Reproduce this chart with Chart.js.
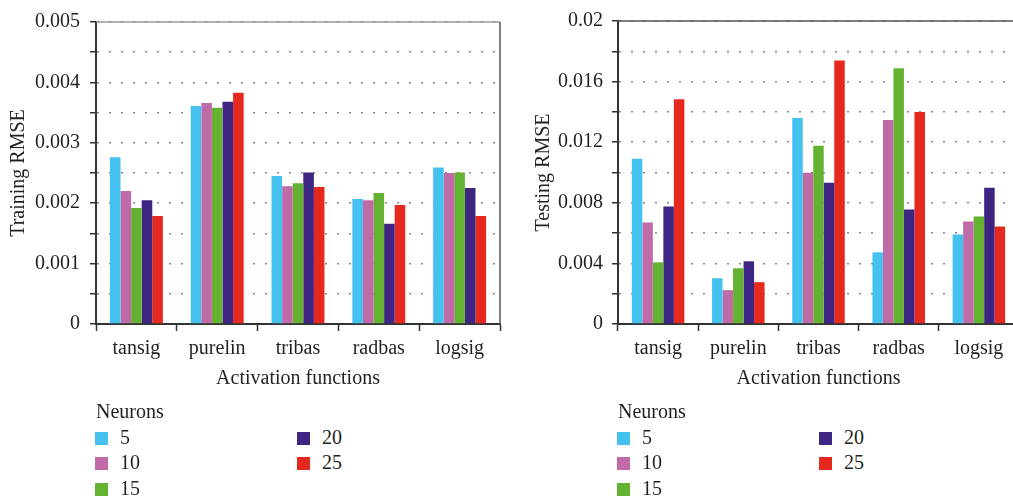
<!DOCTYPE html>
<html>
<head>
<meta charset="utf-8">
<script src="https://cdn.jsdelivr.net/npm/chart.js@4/dist/chart.umd.min.js"></script>
<style>
  html, body { margin: 0; padding: 0; background: #fff; overflow: hidden; }
  body { width: 1013px; height: 497px; position: relative; font-family: "Liberation Serif", serif; color: #231f20; }
  canvas { position: absolute; top: 0; }
  .legend { position: absolute; font-size: 20px; line-height: 24px; }
  .legend .ttl { position: absolute; left: 1px; top: 0; white-space: nowrap; }
  .legend .row { position: absolute; height: 24px; white-space: nowrap; }
  .legend .box { position: absolute; left: 0; top: 7px; width: 13px; height: 13px; }
  .legend .txt { position: absolute; left: 25px; top: 0; }
</style>
</head>
<body>
<canvas id="trainChart" width="505" height="400" style="left:0"></canvas>
<canvas id="testChart" width="498" height="400" style="left:524px"></canvas>
<div id="trainLegend" class="legend" style="left:95px;top:399px"></div>
<div id="testLegend" class="legend" style="left:617px;top:399px"></div>

<script>
// =======================================================
// Données
// =======================================================

const categories = ["tansig", "purelin", "tribas", "radbas", "logsig"];
const neurons = ["5", "10", "15", "20", "25"];
const colors = ["#44C1EE", "#C06BA8", "#64B232", "#3F2583", "#E5291F"];

// Training RMSE
const train5  = [0.00276, 0.00361, 0.00245, 0.00207, 0.00259];
const train10 = [0.00220, 0.00366, 0.00228, 0.00205, 0.00250];
const train15 = [0.00192, 0.00358, 0.00233, 0.00217, 0.00251];
const train20 = [0.00205, 0.00368, 0.00251, 0.00166, 0.00225];
const train25 = [0.00179, 0.00383, 0.00227, 0.00197, 0.00179];

// Testing RMSE
const test5  = [0.01090, 0.00302, 0.01360, 0.00473, 0.00591];
const test10 = [0.00670, 0.00223, 0.00998, 0.01346, 0.00677];
const test15 = [0.00407, 0.00368, 0.01176, 0.01688, 0.00709];
const test20 = [0.00775, 0.00414, 0.00933, 0.00755, 0.00900];
const test25 = [0.01484, 0.00276, 0.01740, 0.01399, 0.00644];

const trainTicks = ["0", "0.001", "0.002", "0.003", "0.004", "0.005"];
const testTicks  = ["0", "0.004", "0.008", "0.012", "0.016", "0.02"];


Chart.defaults.font.family = "'Liberation Serif', serif";
Chart.defaults.font.size = 20;
Chart.defaults.color = "#231f20";


// cadre haut / droite du graphique
const framePlugin = {
    id: "frame",
    afterDatasetsDraw(chart, args, opts) {
        const a = chart.chartArea;
        const ctx = chart.ctx;
        ctx.save();
        ctx.lineWidth = 1.5;
        ctx.strokeStyle = opts.topColor;
        ctx.beginPath();
        ctx.moveTo(a.left, a.top);
        ctx.lineTo(a.right, a.top);
        ctx.stroke();
        ctx.strokeStyle = "#555";
        ctx.beginPath();
        ctx.moveTo(a.right, a.top);
        ctx.lineTo(a.right, a.bottom);
        ctx.stroke();
        ctx.restore();
    }
};


function drawChart(id, series, yTitle, yMax, step, tickLabels, axisW, rightPad, titlePad, labelPad, topColor) {

    new Chart(document.getElementById(id), {

        type: "bar",

        data: {
            labels: categories,
            datasets: series.map((s, i) => ({
                label: neurons[i],
                data: s,
                backgroundColor: colors[i],
                borderWidth: 0,
                categoryPercentage: 0.655,
                barPercentage: 1
            }))
        },

        options: {
            responsive: false,
            animation: false,
            layout: { padding: { top: 20, right: rightPad, left: 0, bottom: 0 } },
            plugins: {
                legend: { display: false },
                tooltip: { enabled: false },
                frame: { topColor: topColor }
            },
            scales: {
                x: {
                    z: 1,
                    afterFit: s => { s.height = 76; },
                    grid: {
                        drawOnChartArea: false,
                        offset: true,
                        tickLength: 7,
                        tickColor: "#333",
                        tickWidth: 1.5
                    },
                    border: { color: "#333", width: 2 },
                    ticks: { padding: 6, color: "#231f20" },
                    title: {
                        display: true,
                        text: "Activation functions",
                        padding: { top: 0, bottom: 9 }
                    }
                },
                y: {
                    min: 0,
                    max: yMax,
                    afterFit: s => { s.width = axisW; },
                    grid: {
                        color: "#888",
                        lineWidth: 1.5,
                        tickLength: 6,
                        tickColor: "#333",
                        tickWidth: 1.5,
                        tickBorderDash: []
                    },
                    border: { color: "#333", width: 2, dash: [2, 10], dashOffset: 0 },
                    ticks: {
                        stepSize: step,
                        padding: labelPad,
                        callback: (v, i) => (i % 2 === 0 ? tickLabels[i / 2] : "")
                    },
                    title: {
                        display: true,
                        text: yTitle,
                        padding: { top: titlePad, bottom: 0 }
                    }
                }
            }
        },

        plugins: [framePlugin]

    });

}


function drawLegend(id) {
    const el = document.getElementById(id);
    let html = '<div class="ttl">Neurons</div>';
    neurons.forEach((n, i) => {
        const col = i < 3 ? 0 : 1;
        const row = i < 3 ? i : i - 3;
        html += '<div class="row" style="left:' + (col * 202) + 'px;top:' + (25.5 + row * 25.5) + 'px">' +
            '<span class="box" style="background:' + colors[i] + '"></span>' +
            '<span class="txt">' + n + '</span></div>';
    });
    el.innerHTML = html;
}


drawChart("trainChart", [train5, train10, train15, train20, train25], "Training RMSE",
    0.005, 0.0005, trainTicks, 96, 5, 7, 10, "#999");
drawChart("testChart", [test5, test10, test15, test20, test25], "Testing RMSE",
    0.02, 0.002, testTicks, 94, 3, 8, 9, "#555");

drawLegend("trainLegend");
drawLegend("testLegend");
</script>
</body>
</html>
